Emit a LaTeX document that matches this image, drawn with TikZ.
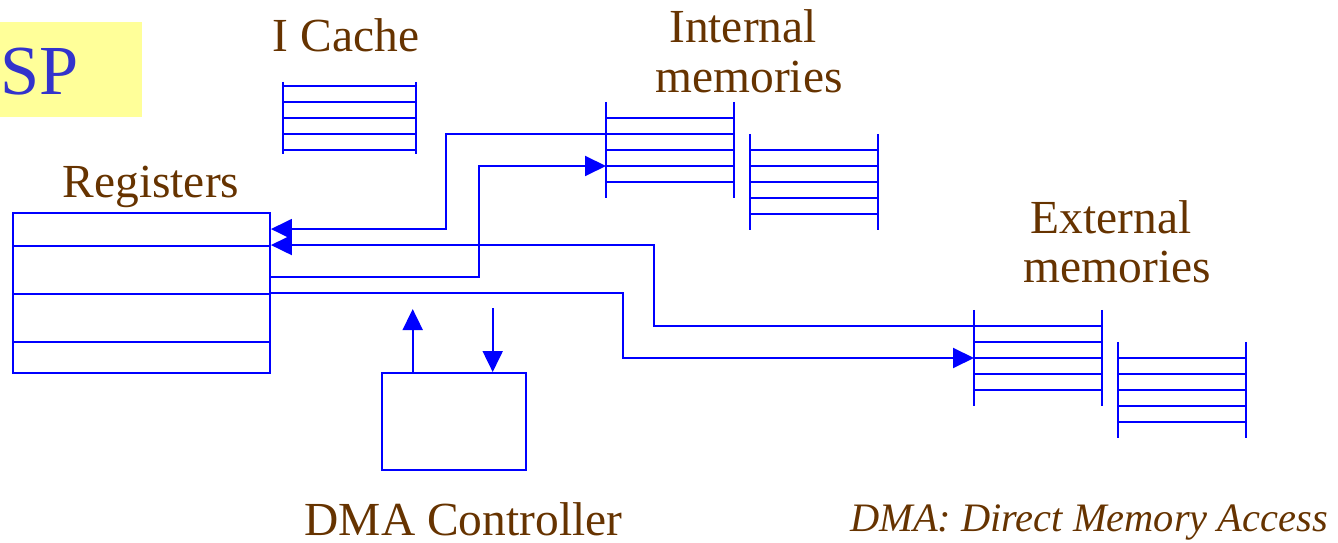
\documentclass[tikz,border=0pt]{standalone}
\usepackage{fontspec}
\setmainfont{Liberation Serif}
\usetikzlibrary{arrows.meta}

\definecolor{labelbrown}{HTML}{663300}
\definecolor{wireblue}{HTML}{0000FF}
\definecolor{spblue}{HTML}{3333CC}
\definecolor{noteyellow}{HTML}{FFFF99}

\tikzset{
  wire/.style={draw=wireblue, line width=1.1pt},
  flow/.style={wire, -{Triangle[length=0.42cm,width=0.4cm]}},
  lbl/.style={text=labelbrown, inner sep=0pt, font=\fontsize{27}{30}\selectfont},
  % a memory bank: two posts and five rows
  pics/bank/.style 2 args={code={
    \draw[wire] (0,-#2) -- (0,64+#2);
    \draw[wire] (#1,-#2) -- (#1,64+#2);
    \foreach \k in {0,...,4} {
      \draw[wire] (0,16*\k) -- (#1,16*\k);
      \coordinate (-r\k) at (0,16*\k);
    }
  }}
}

\begin{document}
\begin{tikzpicture}[x=0.02cm, y=-0.02cm]
    \useasboundingbox (0,0) rectangle (1338,543);

    % Title tag
    \fill[noteyellow] (0,22) rectangle (142,117);
    \node[text=spblue, inner sep=0pt, anchor=base west, font=\fontsize{40}{44}\selectfont] (sp) at (0,95) {SP};

    % Registers
    \node[wire, inner sep=0pt, minimum width=5.14cm, minimum height=3.2cm] (regs) at (141.5,293) {};
    \foreach \y in {246,294,342}
        \draw[wire] (regs.west |- 0,\y) -- (regs.east |- 0,\y);
    \path (regs.north east) ++(0,17) coordinate (rin1) ++(0,16) coordinate (rin2)
          ++(0,32) coordinate (rout1) ++(0,16) coordinate (rout2);
    \node[lbl, anchor=base] (regslbl) at (151,198) {Registers};

    % I Cache
    \pic (icache) at (283,86) {bank={133}{4}};
    \node[lbl, anchor=base] (icachelbl) at (346,52) {I Cache};

    % Internal memories
    \pic (intA) at (606,118) {bank={128}{16}};
    \pic (intB) at (750,150) {bank={128}{16}};
    \node[lbl, anchor=base] (intlbl) at (743,43) {Internal};
    \node[lbl, anchor=base] (intlblb) at (749,93) {memories};

    % External memories
    \pic (extA) at (974,326) {bank={128}{16}};
    \pic (extB) at (1118,358) {bank={128}{16}};
    \node[lbl, anchor=base] (extlbl) at (1111,234) {External};
    \node[lbl, anchor=base] (extlblb) at (1117.5,283) {memories};

    % Buses between registers and memories
    \draw[flow] (intA-r1) -- ++(-160,0) |- (rin1);
    \draw[flow] (extA-r0) -- ++(-320,0) |- (rin2);
    \draw[flow] (rout1) -- ++(208,0) |- (intA-r3);
    \draw[flow] (rout2) -- ++(352,0) |- (extA-r2);

    % DMA controller
    \node[wire, inner sep=0pt, minimum width=2.89cm, minimum height=1.94cm] (dma) at (453.9,421.5) {};
    \path (dma.north west) ++(32,0) coordinate (dmaup) ++(80,0) coordinate (dmadown);
    \draw[flow] (dmaup) -- ++(0,-63);
    \draw[flow] (dmadown) ++(0,-64) -- (dmadown);
    \node[lbl, anchor=base] (dmalbl) at (463.5,535) {DMA Controller};

    \node[lbl, anchor=base, font=\fontsize{23}{26}\selectfont\itshape] (note) at (1089,531) {DMA: Direct Memory Access};
\end{tikzpicture}
\end{document}
